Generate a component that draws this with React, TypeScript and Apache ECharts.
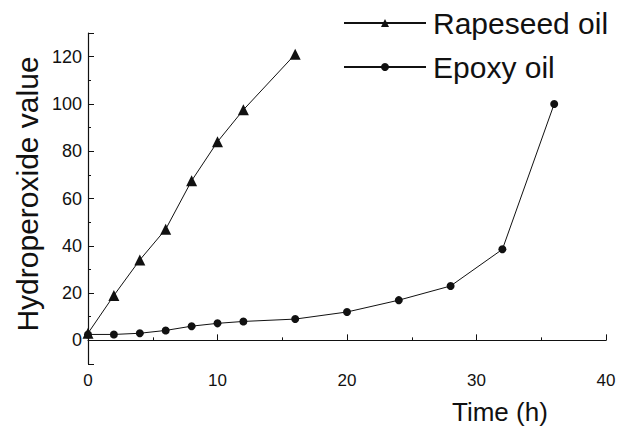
import React, { useEffect, useRef } from "react";
import * as echarts from "echarts";

const rapeseedTime = [0, 2, 4, 6, 8, 10, 12, 16];
const rapeseedValue = [3, 19, 34, 47, 67.5, 84, 97.5, 121];
const epoxyTime = [0, 2, 4, 6, 8, 10, 12, 16, 20, 24, 28, 32, 36];
const epoxyValue = [2.5, 2.5, 3, 4.2, 6, 7.2, 8, 9, 12, 17, 23, 38.5, 100];
const seriesNames = ["Rapeseed oil", "Epoxy oil"];
const xTitle = "Time (h)";
const yTitle = "Hydroperoxide value";

const FONT = "'Liberation Sans', Arial, sans-serif";
const INK = "#111";

export default function App() {
  const ref = useRef<HTMLDivElement>(null);
  useEffect(() => {
    document.body.style.margin = "0";
    const chart = echarts.init(ref.current!, undefined, { renderer: "svg" });
    const axisLine = { show: true, lineStyle: { color: INK, width: 1.2 } };
    chart.setOption({
      animation: false,
      backgroundColor: "#fff",
      textStyle: { fontFamily: FONT },
      grid: { left: 88, right: 13, top: 33, bottom: 62 },
      legend: {
        orient: "vertical",
        left: 338,
        top: 3,
        itemWidth: 82,
        itemHeight: 10,
        itemGap: 14,
        data: seriesNames,
        textStyle: {
          fontSize: 30,
          fontFamily: FONT,
          color: INK,
          lineHeight: 30,
          padding: [0, 0, 0, 2],
        },
      },
      xAxis: {
        type: "value",
        min: 0,
        max: 40,
        interval: 10,
        axisLine,
        axisTick: { show: true, inside: true, length: 6, lineStyle: { color: INK } },
        minorTick: { show: true, splitNumber: 2, length: 3, lineStyle: { color: INK } },
        splitLine: { show: false },
        axisLabel: { fontSize: 17, color: INK, margin: 8, fontFamily: FONT },
      },
      yAxis: [
        {
          type: "value",
          min: -10,
          max: 130,
          splitNumber: 7,
          axisLine,
          axisTick: { show: true, inside: true, length: 6, lineStyle: { color: INK } },
          splitLine: { show: false },
          axisLabel: {
            fontSize: 18,
            color: INK,
            margin: 6,
            fontFamily: FONT,
            formatter: (v: number) =>
              v >= 0 && v <= 120 && Math.round(v) % 20 === 0 ? String(Math.round(v)) : "",
          },
        },
        {
          type: "value",
          min: -10,
          max: 130,
          interval: 10,
          position: "left",
          offset: 0,
          axisLine: { show: false },
          axisTick: { show: true, inside: true, length: 3, lineStyle: { color: INK } },
          splitLine: { show: false },
          axisLabel: { show: false },
        },
      ],
      graphic: [
        {
          type: "text",
          left: 452,
          top: 399,
          style: { text: xTitle, fontSize: 26, fontFamily: FONT, fill: INK },
        },
        {
          type: "text",
          x: 27,
          y: 194,
          rotation: Math.PI / 2,
          style: {
            text: yTitle,
            fontSize: 30,
            fontFamily: FONT,
            fill: INK,
            align: "center",
            verticalAlign: "middle",
          },
        },
      ],
      series: [
        {
          name: seriesNames[0],
          type: "line",
          yAxisIndex: 0,
          data: rapeseedTime.map((t, i) => [t, rapeseedValue[i]]),
          symbol: "triangle",
          symbolSize: 11,
          showAllSymbol: true,
          lineStyle: { color: INK, width: 1 },
          itemStyle: { color: INK },
          clip: false,
        },
        {
          name: seriesNames[1],
          type: "line",
          yAxisIndex: 0,
          data: epoxyTime.map((t, i) => [t, epoxyValue[i]]),
          symbol: "circle",
          symbolSize: 8,
          showAllSymbol: true,
          lineStyle: { color: INK, width: 1 },
          itemStyle: { color: INK },
          clip: false,
        },
      ],
    });
    return () => chart.dispose();
  }, []);
  return <div ref={ref} style={{ width: 619, height: 426 }} />;
}
